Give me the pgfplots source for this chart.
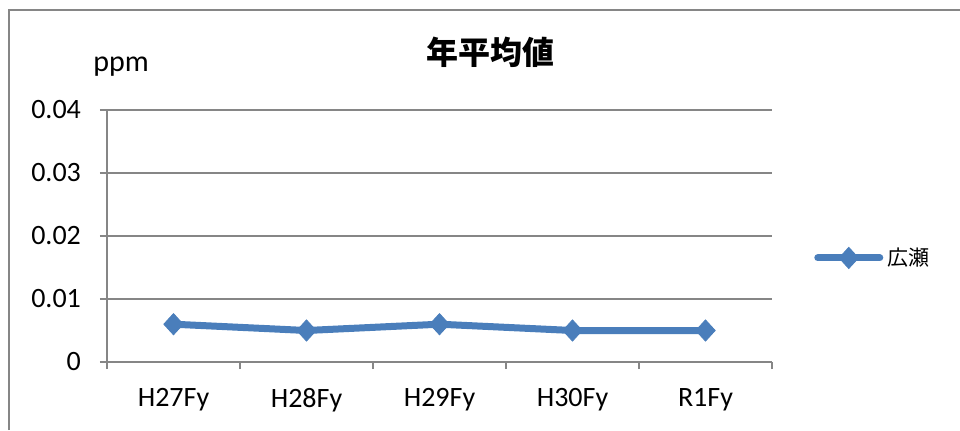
\documentclass[border=0pt]{standalone}
\usepackage{pgfplots}
\pgfplotsset{compat=1.18}
\usepackage{fontspec}
\setmainfont{Carlito}
\newfontfamily\cjk{Noto Sans CJK JP}
\definecolor{excelblue}{HTML}{4A7EBB}
\definecolor{gridgray}{HTML}{868686}
\begin{document}
\begin{tikzpicture}[x=0.5pt,y=0.5pt]
\useasboundingbox (0,0) rectangle (960,430);
\draw[gridgray,line width=1.1pt] (9,0) -- (9,420) -- (960,420);
\coordinate (P) at (107,68);
\begin{axis}[
  at={(P)}, anchor=south west,
  scale only axis, width=332.5pt, height=126pt,
  xmin=-0.5, xmax=4.5, ymin=0, ymax=0.04,
  axis x line*=bottom, axis y line*=left,
  axis line style={gridgray,line width=1pt},
  xtick={-0.5,0.5,1.5,2.5,3.5,4.5},
  xticklabels={H27Fy,H28Fy,H29Fy,H30Fy,R1Fy},
  x tick label as interval,
  ytick={0,0.01,0.02,0.03,0.04},
  yticklabels={0,0.01,0.02,0.03,0.04},
  scaled y ticks=false,
  tick style={gridgray,line width=1pt},
  tick align=outside, major tick length=3.5pt,
  ymajorgrids, grid style={gridgray,line width=1pt},
  tick label style={font=\fontsize{14}{16}\selectfont, black},
  xticklabel style={yshift=-6pt},
  yticklabel style={xshift=-6pt},
  clip=false,
  legend style={at={(1.063,0.413)}, anchor=west, draw=none, fill=none,
    font=\cjk\fontsize{10.5}{12}\selectfont, inner sep=0pt},
  legend image code/.code={\draw[#1, mark repeat=2, mark phase=2] plot coordinates {(0pt,0pt) (15.5pt,0pt) (31pt,0pt)};},
]
\addplot[excelblue, line width=3.5pt, line cap=round, mark=diamond*,
  mark size=5.3pt, mark options={solid, line width=0.4pt, xscale=1.22}]
  coordinates {(0,0.006) (1,0.005) (2,0.006) (3,0.005) (4,0.005)};
\addlegendentry{広瀬}
\end{axis}
\node[font=\cjk\bfseries\fontsize{16}{18}\selectfont] at (490,378) {年平均値};
\node[font=\fontsize{15}{17}\selectfont] at (121,363) {ppm};
\end{tikzpicture}
\end{document}
